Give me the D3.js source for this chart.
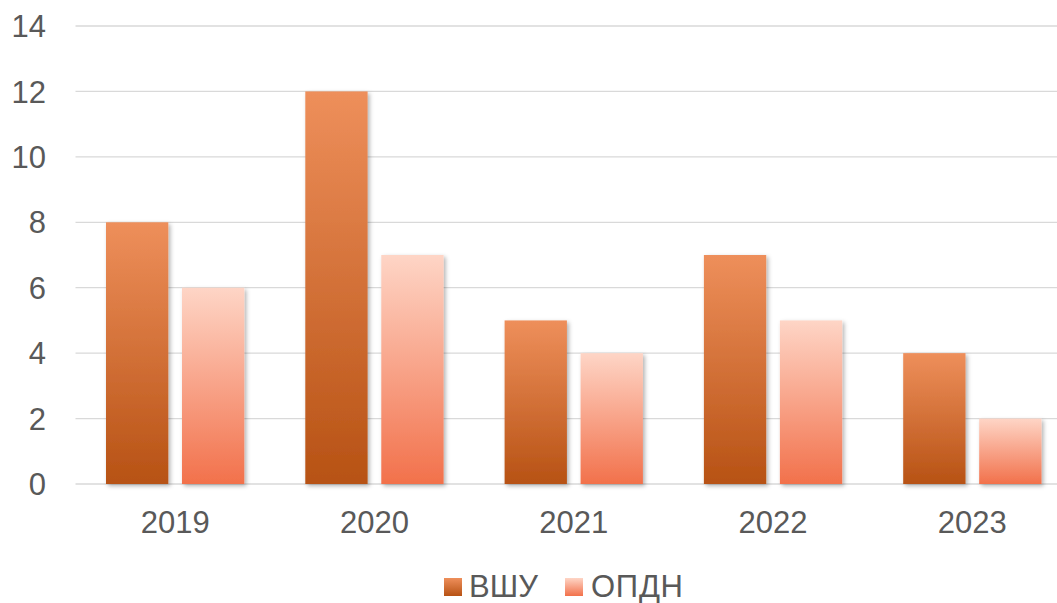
<!DOCTYPE html>
<html lang="ru">
<head>
  <meta charset="UTF-8">
  <title>ВШУ / ОПДН</title>
  <script src="https://d3js.org/d3.v7.min.js"></script>
  <style>
    body { margin: 0; background: #fff; }
    svg text { font-family: "Liberation Sans", Arial, sans-serif; fill: #595959; }
    .grid line { stroke: #d9d9d9; stroke-width: 1.3px; }
  </style>
</head>
<body>
  <svg width="1057" height="603"></svg>
  <script>
    const years = ["2019", "2020", "2021", "2022", "2023"];
    const seriesNames = ["ВШУ", "ОПДН"];
    const vshu = [8, 12, 5, 7, 4];
    const opdn = [6, 7, 4, 5, 2];
    const yTicks = [0, 2, 4, 6, 8, 10, 12, 14];

    const svg = d3.select("svg");
    const plotLeft = 75.5, plotRight = 1072, plotTop = 26, plotBottom = 484;

    const x = d3.scaleBand().domain(years).range([plotLeft, plotRight]).paddingInner(0).paddingOuter(0);
    const xInner = d3.scaleBand().domain(seriesNames).range([30.5, x.bandwidth() - 30.5]).paddingInner(0.18);
    const y = d3.scaleLinear().domain([0, 14]).range([plotBottom, plotTop]);

    const defs = svg.append("defs");
    const grads = [
      { id: "g0", top: "#ee8f5b", bottom: "#b75214" },
      { id: "g1", top: "#fed5c6", bottom: "#f2714b" }
    ];
    grads.forEach(g => {
      const lg = defs.append("linearGradient").attr("id", g.id)
        .attr("x1", 0).attr("y1", 0).attr("x2", 0).attr("y2", 1);
      lg.append("stop").attr("offset", "0%").attr("stop-color", g.top);
      lg.append("stop").attr("offset", "100%").attr("stop-color", g.bottom);
    });
    const f = defs.append("filter").attr("id", "shadow")
      .attr("x", "-20%").attr("y", "-10%").attr("width", "140%").attr("height", "120%");
    f.append("feDropShadow").attr("dx", 2).attr("dy", 2).attr("stdDeviation", 2)
      .attr("flood-color", "#000").attr("flood-opacity", 0.3);

    // gridlines
    svg.append("g").attr("class", "grid")
      .selectAll("line").data(yTicks).join("line")
      .attr("x1", plotLeft).attr("x2", 1057)
      .attr("y1", d => y(d)).attr("y2", d => y(d));

    // y labels
    svg.append("g").selectAll("text").data(yTicks).join("text")
      .attr("x", 46).attr("y", d => y(d)).attr("dy", "0.36em")
      .attr("text-anchor", "end").attr("font-size", 31)
      .text(d => d);

    // bars
    const data = years.map((yr, i) => ({ year: yr, values: [vshu[i], opdn[i]] }));
    const groups = svg.append("g").selectAll("g").data(data).join("g")
      .attr("transform", d => `translate(${x(d.year)},0)`);
    groups.selectAll("rect")
      .data(d => d.values.map((v, k) => ({ name: seriesNames[k], v, k })))
      .join("rect")
      .attr("x", d => xInner(d.name))
      .attr("width", xInner.bandwidth())
      .attr("y", d => y(d.v))
      .attr("height", d => y(0) - y(d.v))
      .attr("fill", d => `url(#g${d.k})`)
      .attr("filter", "url(#shadow)");

    // x labels
    svg.append("g").selectAll("text").data(years).join("text")
      .attr("x", d => x(d) + x.bandwidth() / 2).attr("y", 533)
      .attr("text-anchor", "middle").attr("font-size", 31)
      .text(d => d);

    // legend
    const legendItems = [
      { name: seriesNames[0], sx: 444, tx: 469 },
      { name: seriesNames[1], sx: 565, tx: 591 }
    ];
    const lg = svg.append("g");
    legendItems.forEach((it, k) => {
      lg.append("rect").attr("x", it.sx).attr("y", 578).attr("width", 18).attr("height", 18)
        .attr("fill", `url(#g${k})`);
      lg.append("text").attr("x", it.tx).attr("y", 597)
        .attr("font-size", 31).attr("textLength", k === 0 ? 69 : 92)
        .text(it.name);
    });
  </script>
</body>
</html>
